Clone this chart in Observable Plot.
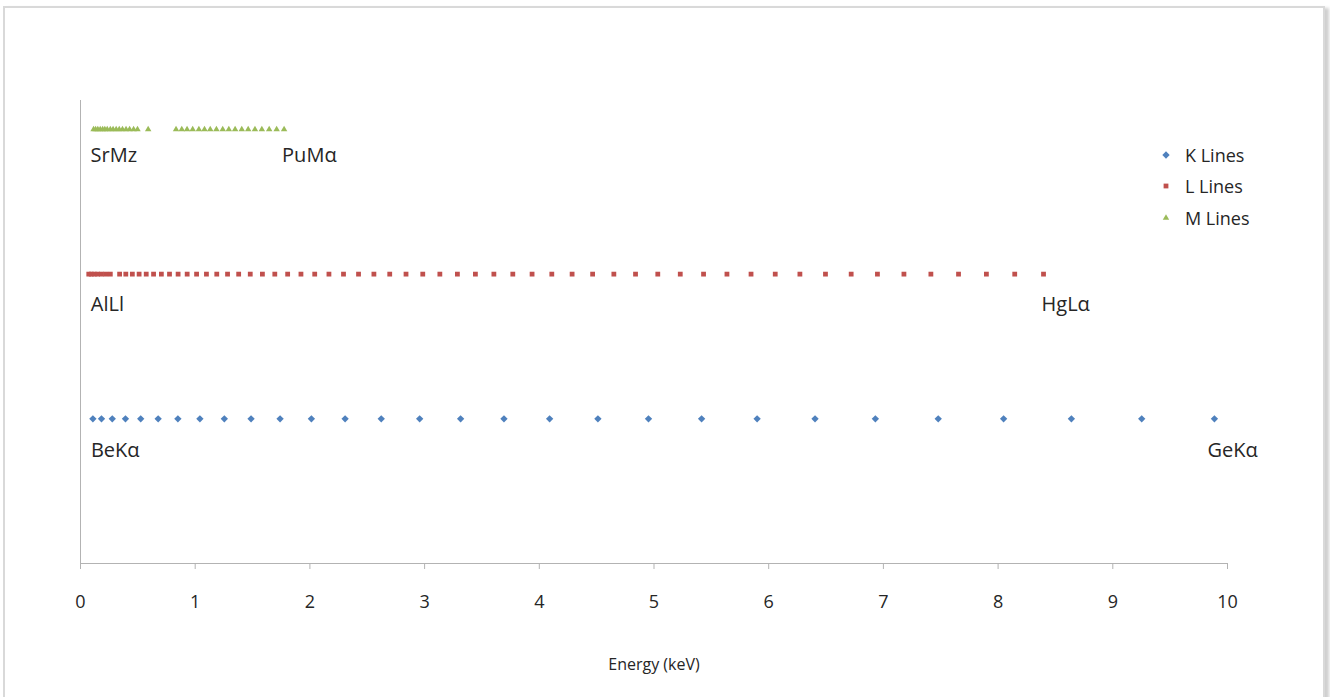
<!DOCTYPE html>
<html>
<head>
<meta charset="utf-8">
<script src="https://cdn.jsdelivr.net/npm/d3@7"></script>
<script src="https://cdn.jsdelivr.net/npm/@observablehq/plot@0.6"></script>
<style>
  html, body { margin: 0; padding: 0; background: #fff; }
  body { width: 1330px; height: 697px; position: relative; overflow: hidden; font-family: "Open Sans", "DejaVu Sans", sans-serif; }
  #frame { position: absolute; left: 3px; top: 6px; width: 1318px; height: 700px; border: 2px solid #d9d9d9; box-shadow: 4px 2px 3px #d0d0d0; background: #fff; }
  #chart { position: absolute; left: 0; top: 0; }
  #legend { position: absolute; left: 1159px; top: 139px; font-size: 18px; color: #262626; }
  #legend .row { display: flex; align-items: center; height: 31.5px; }
  #legend svg { width: 14px; height: 14px; margin-right: 12px; }
</style>
</head>
<body>
<div id="frame"></div>
<div id="chart"></div>
<div id="legend"></div>
<script>
// Series names, their row on the chart, colours and marker symbols
const seriesNames = ["K Lines", "L Lines", "M Lines"];
const seriesRows = [1, 2, 3];
const seriesColors = ["#4f81bd", "#c0504d", "#9bbb59"];
const seriesSymbols = ["diamond2", "square", "triangle"];

// Emission line energies (keV)
// K lines: Be Kα … Ge Kα
const kEnergies = [0.108, 0.183, 0.277, 0.392, 0.525, 0.677, 0.849, 1.041, 1.254, 1.487,
  1.740, 2.013, 2.307, 2.622, 2.957, 3.314, 3.692, 4.090, 4.511, 4.952,
  5.415, 5.899, 6.404, 6.930, 7.478, 8.048, 8.639, 9.252, 9.886];
// L lines: Al Ll … K Ll, then Ca Lα … W Lα
const lEnergies = [0.072, 0.094, 0.120, 0.149, 0.183, 0.220, 0.260,
  0.341, 0.395, 0.452, 0.511, 0.573, 0.637, 0.705, 0.776, 0.851, 0.930,
  1.012, 1.098, 1.188, 1.282, 1.379, 1.480, 1.586, 1.694, 1.806, 1.922,
  2.042, 2.166, 2.293, 2.424, 2.558, 2.696, 2.838, 2.984, 3.133, 3.286,
  3.443, 3.604, 3.769, 3.937, 4.109, 4.286, 4.465, 4.650, 4.839, 5.033,
  5.229, 5.432, 5.636, 5.846, 6.057, 6.272, 6.495, 6.719, 6.948, 7.179,
  7.414, 7.655, 7.898, 8.145, 8.396];
// M lines: Sr Mζ … and La Mα … W Mα
const mEnergies = [0.114, 0.132, 0.151, 0.172, 0.193, 0.212, 0.233, 0.260, 0.284, 0.311,
  0.338, 0.366, 0.397, 0.428, 0.463, 0.497, 0.590,
  0.833, 0.883, 0.929, 0.978, 1.032, 1.081, 1.131, 1.185, 1.240, 1.293, 1.348,
  1.406, 1.462, 1.521, 1.581, 1.645, 1.710, 1.775];

// Names shown under the first and last line of each series
const firstLabels = ["BeKα", "AlLl", "SrMz"];
const lastLabels = ["GeKα", "HgLα", "PuMα"];

// Axis ticks
const xTicks = [0, 1, 2, 3, 4, 5, 6, 7, 8, 9, 10];
const axisTitle = "Energy (keV)";

const seriesEnergies = [kEnergies, lEnergies, mEnergies];
const points = seriesNames.flatMap((name, i) =>
  seriesEnergies[i].map(e => ({energy: e, series: name, row: seriesRows[i]})));

// End labels sit just below the first/last marker of each series
const endLabels = seriesNames.flatMap((name, i) => {
  const e = seriesEnergies[i];
  return [
    {text: firstLabels[i], energy: e[0], row: seriesRows[i]},
    {text: lastLabels[i], energy: e[e.length - 1], row: seriesRows[i]}
  ];
});
const labelOffset = {
  "BeKα": [-2, 32], "GeKα": [-7, 32],
  "AlLl": [2, 30], "HgLα": [-2, 30],
  "SrMz": [-3, 26], "PuMα": [-2, 26]
};

const ink = "#262626";
const axisGrey = "#b3b3b3";

const markerR = {"K Lines": 3.3, "L Lines": 2.7, "M Lines": 2.4};

const chart = Plot.plot({
  width: 1330,
  height: 697,
  marginLeft: 80,
  marginRight: 103,
  marginTop: 100,
  marginBottom: 134,
  x: {domain: [0, 10]},
  y: {domain: [0, 3.2], axis: null},
  color: {domain: seriesNames, range: seriesColors},
  symbol: {domain: seriesNames, range: seriesSymbols},
  style: {fontFamily: "'Open Sans', 'DejaVu Sans', sans-serif", background: "transparent", color: ink},
  marks: [
    Plot.ruleX([0], {stroke: axisGrey}),
    Plot.ruleY([0], {stroke: axisGrey}),
    Plot.axisX({ticks: xTicks, tickSize: 6, tickPadding: 26, fontSize: 18, stroke: axisGrey, fill: ink, label: null, tickFormat: d => String(d)}),
    Plot.text([axisTitle], {frameAnchor: "bottom", dy: 106, fontSize: 16, fill: ink}),
    ...seriesNames.map(name => Plot.dot(points.filter(d => d.series === name), {
      x: "energy", y: "row", fill: "series", symbol: "series", r: markerR[name], stroke: "none"
    })),
    ...endLabels.map(d => Plot.text([d], {
      x: "energy", y: "row", text: "text", fontSize: 20, fill: ink,
      textAnchor: "start", dx: labelOffset[d.text][0], dy: labelOffset[d.text][1]
    }))
  ]
});
document.getElementById("chart").appendChild(chart);

// Legend
const legend = d3.select("#legend");
const symbolTypes = {diamond2: d3.symbolDiamond2, square: d3.symbolSquare, triangle: d3.symbolTriangle};
seriesNames.forEach((name, i) => {
  const row = legend.append("div").attr("class", "row");
  const svg = row.append("svg").attr("viewBox", "-7 -7 14 14");
  const r = markerR[name];
  svg.append("path")
    .attr("d", d3.symbol(symbolTypes[seriesSymbols[i]], r * r * Math.PI)())
    .attr("fill", seriesColors[i]);
  row.append("span").text(name);
});
</script>
</body>
</html>
